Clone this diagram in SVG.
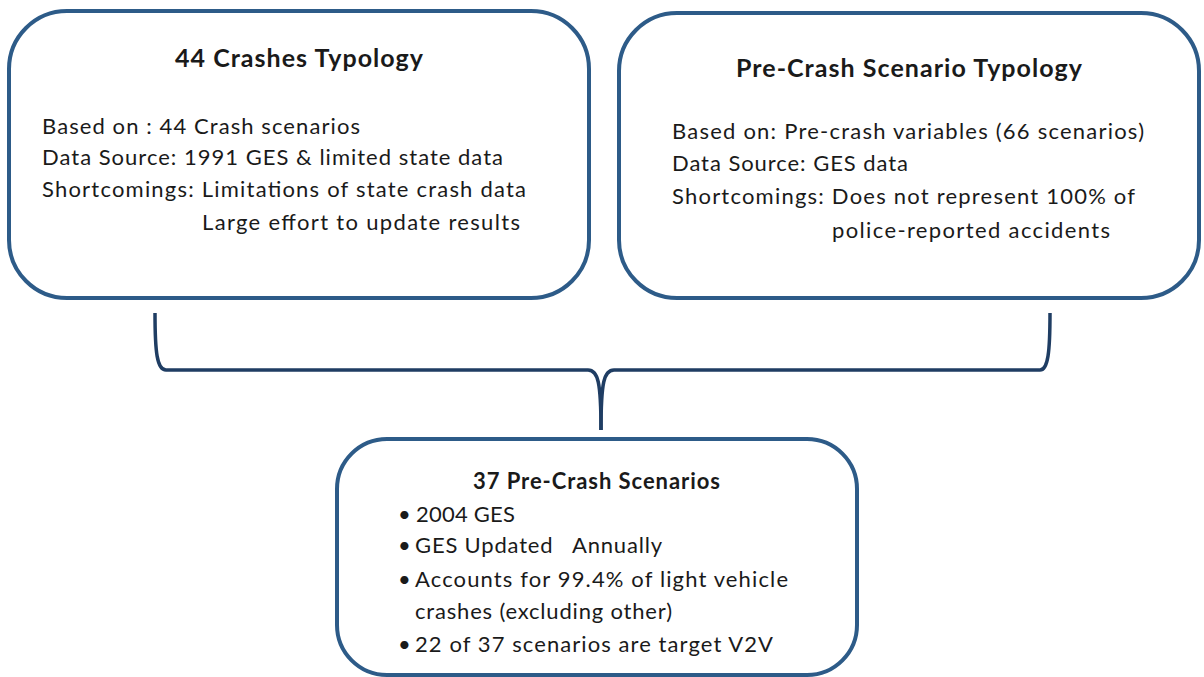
<svg xmlns="http://www.w3.org/2000/svg" width="1204" height="677" viewBox="0 0 1204 677">
<style>
.box{fill:#fff;stroke:#2d5b88;stroke-width:4}
.t{font-family:Lato,"Liberation Sans",sans-serif;fill:#1a1a1a}
.h{font-weight:bold;font-size:25px}
.b{font-size:22px}
.con{fill:none;stroke:#1f3d63;stroke-width:3.5}
</style>
<rect width="1204" height="677" fill="#fff"/>
<g id="connectors">
<path class="con" d="M155,313 C155,352 157,370 166,370 L588,370 C598,370 601,382 601,430"/>
<path class="con" d="M1050,313 C1050,352 1048,370 1040,370 L614,370 C604,370 601,382 601,430"/>
</g>
<g id="crashes-typology">
<rect class="box" x="9" y="11" width="580" height="287" rx="58"/>
<text class="t h" x="175" y="67" textLength="248">44 Crashes Typology</text>
<text class="t b" x="42" y="134" textLength="318">Based on : 44 Crash scenarios</text>
<text class="t b" x="42" y="165" textLength="461">Data Source: 1991 GES &amp; limited state data</text>
<text class="t b" x="42" y="197" textLength="484">Shortcomings: Limitations of state crash data</text>
<text class="t b" x="202" y="230" textLength="318">Large effort to update results</text>
</g>
<g id="pre-crash-typology">
<rect class="box" x="619" y="13" width="580" height="285" rx="58"/>
<text class="t h" x="736" y="77" textLength="346">Pre-Crash Scenario Typology</text>
<text class="t b" x="672" y="139" textLength="472">Based on: Pre-crash variables (66 scenarios)</text>
<text class="t b" x="672" y="171" textLength="236">Data Source: GES data</text>
<text class="t b" x="672" y="204" textLength="463">Shortcomings: Does not represent 100% of</text>
<text class="t b" x="832" y="238" textLength="278">police-reported accidents</text>
</g>
<g id="pre-crash-scenarios">
<rect class="box" x="337" y="439" width="520" height="236" rx="50"/>
<text class="t h" x="473" y="489" style="font-size:22px" textLength="247">37 Pre-Crash Scenarios</text>
<text class="t b" x="398" y="522">•</text>
<text class="t b" x="416" y="522" textLength="99">2004 GES</text>
<text class="t b" x="398" y="553">•</text>
<text class="t b" x="415" y="553" textLength="247" xml:space="preserve">GES Updated   Annually</text>
<text class="t b" x="398" y="587">•</text>
<text class="t b" x="415" y="587" textLength="373">Accounts for 99.4% of light vehicle</text>
<text class="t b" x="415" y="619" textLength="257">crashes (excluding other)</text>
<text class="t b" x="398" y="652">•</text>
<text class="t b" x="415" y="652" textLength="358">22 of 37 scenarios are target V2V</text>
</g>
</svg>
